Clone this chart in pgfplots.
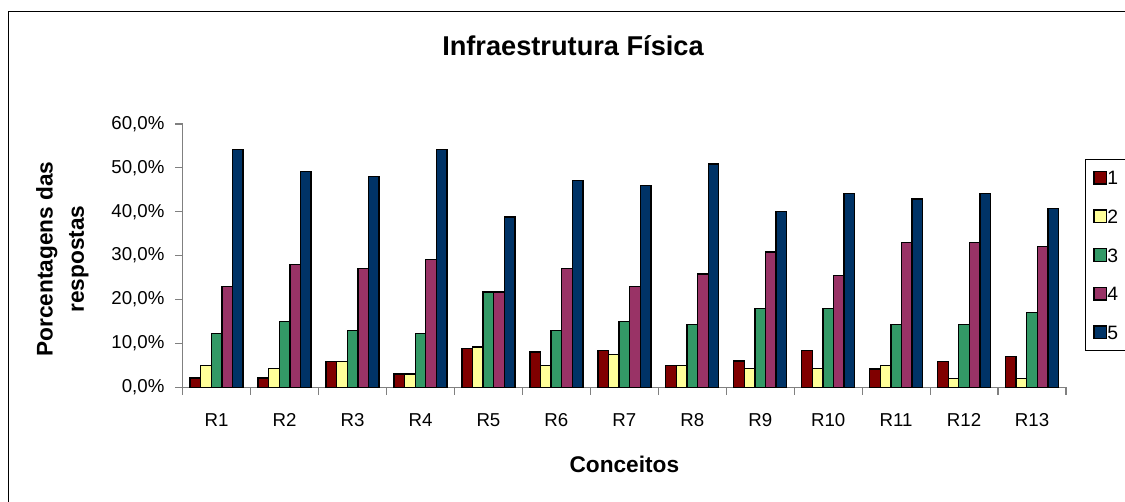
\documentclass[border=0pt]{standalone}
\usepackage{fontspec}
\setmainfont{Liberation Sans}
\usepackage{pgfplots}
\usepackage{pgfplotstable}
\pgfplotsset{compat=1.18}
\definecolor{cA}{HTML}{800000}
\definecolor{cB}{HTML}{FFFF99}
\definecolor{cC}{HTML}{339966}
\definecolor{cD}{HTML}{993366}
\definecolor{cE}{HTML}{003366}
\definecolor{axgray}{HTML}{808080}
\pgfplotstableread{
x  a    b    c     d     e
0  2.1  5.0  12.2  22.9  54.2
1  2.1  4.3  15.0  27.9  49.2
2  5.9  5.9  13.0  27.0  48.0
3  3.0  3.0  12.2  29.1  54.2
4  8.8  9.2  21.7  21.7  38.8
5  8.0  4.9  13.0  27.0  47.1
6  8.4  7.5  15.0  22.9  45.9
7  5.0  5.0  14.3  25.8  50.9
8  6.0  4.3  17.9  30.8  40.0
9  8.4  4.3  17.9  25.4  44.1
10 4.2  4.9  14.3  33.0  42.9
11 5.9  2.0  14.3  33.0  44.1
12 7.0  2.0  17.0  32.1  40.8
}\datatable
\pgfplotsset{
  sqbar/.style={fill=#1, draw=black, line width=1pt,
    legend image code/.code={\draw[fill=#1,draw=black,line width=1pt] (0pt,-4.75pt) rectangle (9.5pt,4.75pt);}},
}
\begin{document}
\begin{tikzpicture}
\clip (0,0) rectangle (843.75pt,375.75pt);
\path[fill=white] (0,0) rectangle (843.75pt,375.75pt);
\draw[line width=1pt,black] (6.2pt,-20pt) rectangle (900pt,367pt);
\begin{axis}[
  at={(137pt,85.3pt)}, anchor=south west,
  scale only axis, width=662.5pt, height=197.5pt,
  ybar=0pt, bar width=7.95pt,
  xmin=-0.5, xmax=12.5, ymin=0, ymax=60,
  axis lines=left,
  axis line style={-, draw=axgray, line width=0.9pt},
  tick align=outside,
  tick style={draw=axgray, line width=0.9pt},
  major tick length=5.7pt,
  minor tick length=5.7pt,
  xtick={0,...,12},
  xticklabels={R1,R2,R3,R4,R5,R6,R7,R8,R9,R10,R11,R12,R13},
  major x tick style={draw=none},
  minor xtick={-0.5,0.5,...,12.5},
  ytick={0,10,20,30,40,50,60},
  yticklabels={{0,0\%},{10,0\%},{20,0\%},{30,0\%},{40,0\%},{50,0\%},{60,0\%}},
  ticklabel style={font=\fontsize{14}{16}\selectfont},
  xticklabel style={yshift=-10.5pt},
  yticklabel style={xshift=-4.5pt},
  xlabel={Conceitos},
  xlabel style={at={(axis description cs:0.5,-0.291)}, anchor=center, font=\bfseries\fontsize{17}{20}\selectfont},
  ylabel={Porcentagens das\\respostas},
  ylabel style={at={(axis description cs:-0.1362,0.487)}, anchor=center, rotate=0, align=center, font=\bfseries\fontsize{17}{23.5}\selectfont},
  title={Infraestrutura Física},
  title style={at={(axis description cs:0.4419,1.266)}, anchor=center, font=\bfseries\fontsize{20.4}{24}\selectfont},
  legend style={at={(1.0215,0.867)}, anchor=north west, draw=black, line width=0.8pt,
    inner xsep=5.8pt, inner ysep=8.5pt, row sep=18.5pt,
    font=\fontsize{14.5}{16}\selectfont,
    nodes={inner sep=0pt, text height=10.4pt, text depth=0pt},
    /tikz/every even column/.append style={column sep=3pt}},
]
\addplot[sqbar=cA] table[x=x,y=a]{\datatable};
\addplot[sqbar=cB] table[x=x,y=b]{\datatable};
\addplot[sqbar=cC] table[x=x,y=c]{\datatable};
\addplot[sqbar=cD] table[x=x,y=d]{\datatable};
\addplot[sqbar=cE] table[x=x,y=e]{\datatable};
\legend{1,2,3,4,5}
\end{axis}
\end{tikzpicture}
\end{document}
